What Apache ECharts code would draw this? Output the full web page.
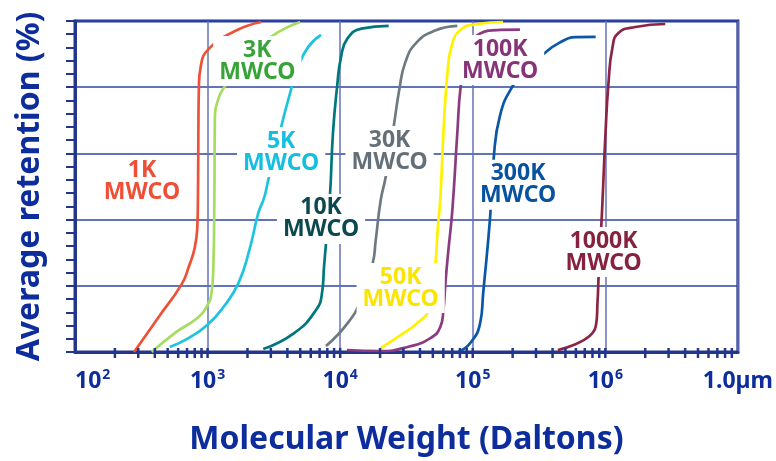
<!DOCTYPE html>
<html><head><meta charset="utf-8">
<script src="https://cdn.jsdelivr.net/npm/echarts@6/dist/echarts.min.js"></script>
<style>html,body{margin:0;padding:0;background:#fff}#c{width:776px;height:461px}</style>
</head><body><div id="c"></div>
<script>
// ---- data ----
const mwcoNames = ['1K', '3K', '5K', '10K', '30K', '50K', '100K', '300K', '1000K'];
const xTickLabels = [['10', '2'], ['10', '3'], ['10', '4'], ['10', '5'], ['10', '6'], ['1.0µm', '']];
const xMinorTicks = [200, 300, 400, 500, 600, 700, 800, 900,
  1000, 2000, 3000, 4000, 5000, 6000, 7000, 8000, 9000,
  10000, 20000, 30000, 40000, 50000, 60000, 70000, 80000, 90000,
  100000, 200000, 300000, 400000, 500000, 600000, 700000, 800000, 900000,
  1000000, 2000000, 3000000, 4000000, 5000000, 6000000, 7000000, 8000000, 9000000];

const ret1K = [[279, 0], [428, 10.6], [638, 20.5], [725, 26], [800, 31.5], [836, 37.5], [846, 46], [852, 66], [860, 80], [890, 86.5], [1017, 91.5], [1596, 96.9], [2541, 99.7]];
const ret3K = [[380, 0], [565, 5.7], [856, 10.6], [1000, 14.2], [1072, 18], [1105, 25.7], [1125, 45.9], [1135, 70], [1209, 76.6], [1389, 81], [1799, 87.5], [3020, 95.3], [4990, 99.7]];
const ret5K = [[519, 1.5], [719, 4.2], [1000, 8.2], [1319, 13.6], [1709, 20.8], [2066, 30.8], [2415, 42], [2680, 46.8], [2871, 52], [3591, 68], [4055, 76.1], [4819, 86.1], [5731, 92.1], [7171, 95.8]];
const ret10K = [[2630, 0.9], [4496, 5.7], [6579, 12.7], [7297, 17.8], [7554, 25.7], [7822, 32.9], [8381, 47.4], [8826, 66.2], [9500, 80.5], [10140, 89], [11300, 94.6], [14500, 97.7], [23220, 98.5]];
const ret30K = [[7820, 1.8], [11430, 8.8], [14310, 15.7], [17620, 26.9], [18550, 33.8], [20230, 45.9], [22050, 52.9], [25310, 68], [28000, 79.5], [31000, 87.5], [37500, 93.4], [52000, 97.1], [76510, 98.5]];
const ret50K = [[20230, 1.2], [30090, 5.7], [38300, 8.8], [46330, 12.7], [52320, 26.9], [54170, 36], [57050, 46.8], [60110, 66.2], [64500, 84.5], [69500, 92.6], [80620, 97.3], [108100, 99.1], [169400, 99.7]];
const ret100K = [[11250, 0.6], [20230, 0.3], [32230, 1.5], [47940, 4.2], [57010, 7.6], [60110, 12.7], [62200, 20.8], [65530, 30.8], [70230, 43], [76510, 66.2], [81000, 80], [89000, 89.5], [113800, 96.2], [160700, 97.3], [227000, 97.4]];
const ret300K = [[77800, 0], [95800, 2.7], [113800, 8.8], [119900, 17.8], [135300, 40.8], [143500, 58], [160700, 71.5], [201300, 80.5], [261000, 86], [338300, 89.9], [445800, 93.3], [598000, 95.1], [845400, 95.2]];
const ret1000K = [[438300, 0.6], [845400, 7.6], [875000, 15.7], [889800, 22.7], [937500, 39.9], [953100, 45.9], [1003500, 66.2], [1057000, 81.3], [1133000, 92.1], [1257000, 96.4], [1686000, 98.2], [2831000, 99.1]];

const curves = [ret1K, ret3K, ret5K, ret10K, ret30K, ret50K, ret100K, ret300K, ret1000K];
// label anchor (centre) of each MWCO tag, in data units [MW, %]
const labelAnchors = [[320, 51.4], [2371, 87.9], [3590, 60.4], [7172, 40.2], [23590, 60.7], [28600, 19.3], [160900, 88.2], [219600, 50.5], [970600, 30.2]];

// ---- styles ----
const lineColors = ['#ef5137', '#a6dc62', '#1ec3e0', '#00777c', '#6e7a82', '#fff200', '#8b3b7f', '#0a58a5', '#8c2444'];
const textColors = ['#ee4f36', '#36a437', '#14bfe0', '#0b4850', '#656f77', '#fbe400', '#853577', '#0753a0', '#86223f'];
const navy = '#23368c';
const titleBlue = '#0d2d9c';
const FONT = '"Noto Sans", sans-serif';

const chart = echarts.init(document.getElementById('c'), null, {renderer: 'canvas'});

const series = [];
curves.forEach((d, i) => {
  series.push({
    type: 'line', data: d, showSymbol: false, smooth: 0.5, z: 3,
    lineStyle: {color: lineColors[i], width: 2.7}, silent: true
  });
});
mwcoNames.forEach((n, i) => {
  series.push({
    type: 'scatter', data: [labelAnchors[i]], symbolSize: 0, z: 10, silent: true,
    itemStyle: {opacity: 1},
    label: {
      show: true, position: 'inside', formatter: n + '\nMWCO', opacity: 1,
      color: textColors[i], fontFamily: FONT, fontWeight: 'bold', fontSize: 23, lineHeight: 22,
      align: 'center', verticalAlign: 'middle',
      backgroundColor: '#fff', padding: [4, 6, 2, 6]
    }
  });
});
series.push({
  type: 'scatter', data: xMinorTicks.map(v => [v, 0]), symbol: 'rect', symbolSize: [2.5, 10],
  symbolOffset: [0, 1], itemStyle: {color: navy, opacity: 1}, z: 12, silent: true, clip: false
});

chart.setOption({
  animation: false,
  grid: {left: 75, right: 37, top: 21, bottom: 109, show: true, borderColor: navy, borderWidth: 3, backgroundColor: 'transparent'},
  xAxis: {
    type: 'log', logBase: 10, min: 100, max: 10000000,
    name: 'Molecular Weight (Daltons)', nameLocation: 'middle', nameGap: 72,
    nameTextStyle: {color: titleBlue, fontFamily: FONT, fontWeight: 'bold', fontSize: 32},
    axisLine: {lineStyle: {color: navy, width: 3}},
    axisTick: {show: false},
    splitLine: {show: true, lineStyle: {color: '#6472b4', width: 1.5}},
    axisLabel: {
      margin: 16, alignMinLabel: 'left',
      formatter: v => {
        const t = xTickLabels[Math.round(Math.log10(v)) - 2];
        return t[1] ? '{n|' + t[0] + '}{s|' + t[1] + '}' : '{n|' + t[0] + '}';
      },
      rich: {
        n: {color: titleBlue, fontFamily: FONT, fontWeight: 'bold', fontSize: 23, lineHeight: 26},
        s: {color: titleBlue, fontFamily: FONT, fontWeight: 'bold', fontSize: 14, lineHeight: 14, verticalAlign: 'top', padding: [0, 0, 0, 1]}
      }
    }
  },
  yAxis: [{
    type: 'value', min: 0, max: 100, interval: 4,
    name: 'Average retention (%)', nameLocation: 'middle', nameGap: 29,
    nameTextStyle: {color: titleBlue, fontFamily: FONT, fontWeight: 'bold', fontSize: 32},
    axisLine: {show: true, lineStyle: {color: navy, width: 3}},
    axisTick: {show: true, length: 9, lineStyle: {color: navy, width: 2}},
    axisLabel: {show: false},
    splitLine: {show: false}
  }, {
    type: 'value', min: 0, max: 100, interval: 20, position: 'left',
    axisLine: {show: false}, axisTick: {show: false}, axisLabel: {show: false},
    splitLine: {show: true, lineStyle: {color: '#2c45a5', width: 1.5}}
  }],
  series: series
});
</script>
</body></html>
